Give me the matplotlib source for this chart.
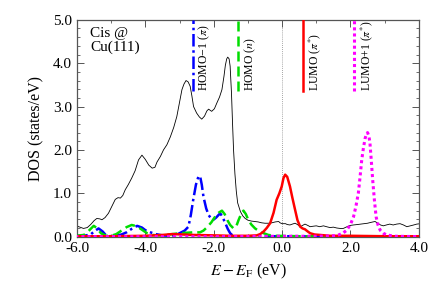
"""DOS of Cis @ Cu(111): total DOS and projected molecular orbitals."""
import matplotlib
matplotlib.use("Agg")
import matplotlib.pyplot as plt
from matplotlib.ticker import MultipleLocator, FormatStrFormatter

plt.rcParams["font.family"] = ["Liberation Serif", "DejaVu Serif"]
plt.rcParams["mathtext.fontset"] = "stix"
plt.rcParams["axes.unicode_minus"] = True

# total DOS (thin black)
tot_e = [-6.05, -5.95, -5.81, -5.7, -5.6, -5.5, -5.42, -5.33, -5.27, -5.18, -5.08, -4.98,
         -4.88, -4.8, -4.73, -4.66, -4.59, -4.5, -4.4, -4.3, -4.2, -4.1, -4.0, -3.9, -3.8,
         -3.72, -3.66, -3.56, -3.47, -3.37, -3.27, -3.17, -3.08, -3.0, -2.93, -2.87, -2.81,
         -2.75, -2.69, -2.64, -2.59, -2.5, -2.42, -2.35, -2.27, -2.2, -2.15, -2.06, -1.98,
         -1.91, -1.83, -1.76, -1.7, -1.66, -1.62, -1.59, -1.55, -1.52, -1.48, -1.45, -1.42,
         -1.38, -1.34, -1.3, -1.22, -1.15, -1.08, -1.0, -0.9, -0.8, -0.7, -0.6, -0.5, -0.4,
         -0.3, -0.2, -0.1, -0.06, 0.0, 0.1, 0.15, 0.23, 0.3, 0.38, 0.45, 0.53, 0.6, 0.67,
         0.75, 0.82, 0.9, 1.0, 1.1, 1.21, 1.3, 1.4, 1.5, 1.6, 1.7, 1.79, 1.9, 2.0, 2.09,
         2.2, 2.3, 2.4, 2.5, 2.6, 2.72, 2.8, 2.88, 2.96, 3.05, 3.15, 3.25, 3.35, 3.45, 3.55,
         3.65, 3.75, 3.85, 3.94, 4.05]
tot_v = [0.27, 0.23, 0.19, 0.21, 0.28, 0.37, 0.42, 0.41, 0.39, 0.44, 0.54, 0.7,
         0.86, 0.9, 0.89, 0.95, 1.08, 1.2, 1.35, 1.52, 1.77, 1.88, 1.78, 1.65, 1.58,
         1.6, 1.72, 1.85, 2.0, 2.12, 2.3, 2.52, 2.77, 3.1, 3.39, 3.52, 3.6,
         3.57, 3.47, 3.25, 3.0, 2.85, 2.76, 2.71, 2.78, 2.9, 2.94, 2.89, 2.95,
         3.08, 3.22, 3.39, 3.7, 3.95, 4.1, 4.14, 4.1, 3.93, 3.3, 2.62, 2.0,
         1.45, 1.05, 0.78, 0.58, 0.48, 0.42, 0.38, 0.36, 0.35, 0.34, 0.32, 0.31, 0.31,
         0.32, 0.34, 0.35, 0.32, 0.3, 0.3, 0.28, 0.27, 0.29, 0.31, 0.28, 0.23, 0.26, 0.29,
         0.26, 0.23, 0.24, 0.25, 0.23, 0.25, 0.23, 0.21, 0.22, 0.2, 0.19, 0.19, 0.23, 0.26, 0.27,
         0.28, 0.29, 0.3, 0.31, 0.33, 0.35, 0.31, 0.27, 0.25, 0.27, 0.29, 0.27, 0.29, 0.3, 0.27,
         0.23, 0.25, 0.27, 0.29, 0.3]

# HOMO-1 (pi), blue dash-dot
h1_e = [-6.05, -5.8, -5.6, -5.5, -5.37, -5.25, -5.15, -5.05, -4.9, -4.7, -4.55, -4.4, -4.24,
        -4.1, -4.0, -3.85, -3.7, -3.5, -3.3, -3.1, -2.95, -2.85, -2.74, -2.67, -2.6, -2.52,
        -2.45, -2.4, -2.35, -2.3, -2.22, -2.15, -2.08, -2.01, -1.93, -1.86, -1.81, -1.74,
        -1.66, -1.59, -1.52, -1.45, -1.35, -1.2, -0.8, 0.0, 1.0, 2.0, 3.0, 4.05]
h1_v = [0.02, 0.02, 0.05, 0.12, 0.19, 0.12, 0.03, 0.01, 0.02, 0.05, 0.1, 0.18, 0.25,
        0.21, 0.15, 0.1, 0.06, 0.03, 0.02, 0.04, 0.1, 0.14, 0.23, 0.5, 0.85, 1.2,
        1.38, 1.4, 1.2, 0.92, 0.65, 0.5, 0.42, 0.39, 0.44, 0.5, 0.54, 0.45,
        0.31, 0.18, 0.08, 0.03, 0.01, 0.01, 0.01, 0.01, 0.01, 0.01, 0.01, 0.01]

# HOMO (n), green dashed
h_e = [-6.05, -5.8, -5.7, -5.6, -5.51, -5.42, -5.3, -5.15, -5.0, -4.85, -4.7, -4.55, -4.4,
       -4.25, -4.1, -3.95, -3.8, -3.6, -3.4, -3.2, -3.0, -2.8, -2.6, -2.4, -2.3, -2.18, -2.07,
       -1.96, -1.86, -1.76, -1.68, -1.6, -1.52, -1.42, -1.34, -1.27, -1.2, -1.13, -1.06,
       -0.99, -0.9, -0.79, -0.66, -0.54, -0.4, -0.2, 0.5, 1.5, 2.5, 3.5, 4.05]
h_v = [0.02, 0.04, 0.1, 0.18, 0.25, 0.2, 0.08, 0.02, 0.02, 0.06, 0.14, 0.22, 0.27,
       0.24, 0.16, 0.08, 0.04, 0.03, 0.04, 0.06, 0.08, 0.09, 0.1, 0.1, 0.14, 0.23, 0.33,
       0.46, 0.55, 0.6, 0.52, 0.38, 0.27, 0.19, 0.24, 0.39, 0.52, 0.6, 0.52,
       0.39, 0.28, 0.19, 0.12, 0.08, 0.04, 0.02, 0.01, 0.01, 0.01, 0.01, 0.01]

# LUMO (pi*), red solid
l_e = [-6.05, -5.0, -4.0, -3.5, -3.22, -2.9, -2.6, -2.0, -1.5, -1.0, -0.74, -0.64, -0.54,
       -0.45, -0.35, -0.25, -0.16, -0.08, -0.01, 0.04, 0.09, 0.15, 0.23, 0.3, 0.38, 0.45,
       0.53, 0.6, 0.67, 0.75, 0.82, 0.95, 1.11, 1.4, 2.0, 3.0, 4.05]
l_v = [0.01, 0.01, 0.02, 0.04, 0.06, 0.05, 0.04, 0.03, 0.02, 0.02, 0.03, 0.06, 0.12,
       0.2, 0.31, 0.55, 0.85, 1.0, 1.16, 1.35, 1.43, 1.38, 1.16, 0.9, 0.62, 0.38,
       0.23, 0.19, 0.17, 0.12, 0.08, 0.05, 0.04, 0.02, 0.02, 0.01, 0.01]

# LUMO+1 (pi*), magenta dotted
l1_e = [-6.05, -4.0, -2.0, 0.0, 1.0, 1.5, 1.65, 1.78, 1.89, 2.0, 2.09, 2.16, 2.23, 2.28, 2.33,
        2.38, 2.43, 2.47, 2.5, 2.54, 2.57, 2.61, 2.65, 2.7, 2.75, 2.81, 2.87, 2.96, 3.06, 3.3,
        4.05]
l1_v = [0.0, 0.0, 0.0, 0.01, 0.01, 0.02, 0.04, 0.08, 0.15, 0.28, 0.46, 0.7, 1.0, 1.37, 1.77,
        2.05, 2.27, 2.37, 2.4, 2.32, 2.16, 1.75, 1.31, 0.85, 0.46, 0.26, 0.15, 0.08, 0.04, 0.01,
        0.0]

orb_names = ["HOMO\u22121 ($\\pi$)", "HOMO ($n$)", "LUMO ($\\pi^{*}$)", "LUMO+1 ($\\pi^{*}$)"]
orb_energy = [-2.61, -1.28, 0.6, 2.11]
orb_color = ["#0000ff", "#00dd00", "#ff0000", "#ff00ff"]
orb_style = [(0, (5, 1.5, 1, 1.5)), (0, (4, 2)), "-", (0, (1, 1))]

fig = plt.figure(figsize=(4.36, 3.05), dpi=100)
ax = fig.add_axes([0.1766, 0.224, 0.784, 0.711])

ax.axvline(0.0, color="#888888", lw=0.6, ls=(0, (1, 1.5)), zorder=1)
ax.plot(tot_e, tot_v, color="black", lw=0.6, zorder=2)

series = [(h1_e, h1_v), (h_e, h_v), (l_e, l_v), (l1_e, l1_v)]
for i, (e, v) in enumerate(series):
    lw = 2.2 if i == 3 else 1.8
    ax.plot(e, v, color=orb_color[i], lw=lw, ls=orb_style[i], zorder=3 + i * 0.1)

for i, en in enumerate(orb_energy):
    lw = 2.2 if i == 3 else 1.8
    ax.plot([en, en], [3.35, 5.0], color=orb_color[i], lw=lw, ls=orb_style[i], zorder=4)
    ax.text(en + 0.12, 3.35, orb_names[i], rotation=90, ha="left", va="bottom",
            fontsize=8.5)

ax.text(-5.62, 4.83, "Cis @\nCu(111)", ha="left", va="top", fontsize=11, linespacing=1.05)

ax.set_xlim(-6.0, 4.0)
ax.set_ylim(0.0, 5.0)
ax.xaxis.set_major_locator(MultipleLocator(2.0))
ax.xaxis.set_minor_locator(MultipleLocator(1.0))
ax.yaxis.set_major_locator(MultipleLocator(1.0))
ax.yaxis.set_minor_locator(MultipleLocator(0.2))
ax.xaxis.set_major_formatter(FormatStrFormatter("%.1f"))
ax.yaxis.set_major_formatter(FormatStrFormatter("%.1f"))
ax.tick_params(which="both", direction="in", top=True, right=True, labelsize=11,
               color="#555555")
ax.tick_params(which="major", length=5, width=0.7)
ax.tick_params(which="minor", length=2.5, width=0.6)
for sp in ax.spines.values():
    sp.set_color("#555555")
    sp.set_linewidth(0.9)

ax.set_xlabel("$E - E_{\\mathrm{F}}$ (eV)", fontsize=11.5, labelpad=5)
ax.set_ylabel("DOS (states/eV)", fontsize=11.5, labelpad=6)

fig.savefig("out.png", dpi=100)
